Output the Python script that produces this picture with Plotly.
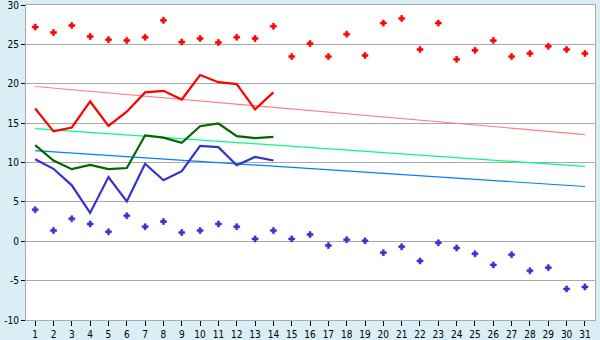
import plotly.graph_objects as go

days = list(range(1, 32))
max_pts = [27.2, 26.5, 27.4, 26.0, 25.6, 25.5, 25.9, 28.05, 25.3, 25.75,
           25.25, 25.9, 25.75, 27.3, 23.45, 25.1, 23.45, 26.3, 23.6, 27.7,
           28.3, 24.35, 27.7, 23.1, 24.25, 25.5, 23.45, 23.85, 24.75, 24.35, 23.85]
min_pts = [4.0, 1.35, 2.85, 2.2, 1.2, 3.25, 1.85, 2.5, 1.1, 1.35,
           2.2, 1.85, 0.3, 1.35, 0.3, 0.85, -0.55, 0.2, 0.05, -1.45,
           -0.7, -2.5, -0.2, -0.85, -1.6, -3.0, -1.7, -3.75, -3.35, -6.05, -5.8]
line_days = list(range(1, 15))
max_line = [16.85, 13.95, 14.45, 17.75, 14.65, 16.45, 18.9, 19.1, 18.0, 21.1,
            20.2, 19.95, 16.75, 18.9]
mean_line = [12.2, 10.25, 9.15, 9.7, 9.15, 9.3, 13.45, 13.15, 12.5, 14.6,
             14.95, 13.35, 13.1, 13.25]
min_line = [10.4, 9.2, 7.1, 3.6, 8.15, 5.05, 9.85, 7.75, 8.9, 12.1,
            11.95, 9.65, 10.7, 10.25]
trend_days = [1, 31]
trend_max = [19.65, 13.55]
trend_mean = [14.3, 9.5]
trend_min = [11.5, 6.95]
y_ticks = [-10, -5, 0, 5, 10, 15, 20, 25, 30]

fig = go.Figure()
fig.add_trace(go.Scatter(x=trend_days, y=trend_max, mode="lines",
                         line=dict(color="#FF8080", width=1.2)))
fig.add_trace(go.Scatter(x=trend_days, y=trend_mean, mode="lines",
                         line=dict(color="#00FF80", width=1.2)))
fig.add_trace(go.Scatter(x=trend_days, y=trend_min, mode="lines",
                         line=dict(color="#0080FF", width=1.2)))
fig.add_trace(go.Scatter(x=line_days, y=max_line, mode="lines",
                         line=dict(color="#FF0000", width=2.2)))
fig.add_trace(go.Scatter(x=line_days, y=mean_line, mode="lines",
                         line=dict(color="#006600", width=2.2)))
fig.add_trace(go.Scatter(x=line_days, y=min_line, mode="lines",
                         line=dict(color="#3333CC", width=2.2)))
fig.add_trace(go.Scatter(x=days, y=max_pts, mode="markers",
                         marker=dict(symbol="cross", size=5, color="#FF0000",
                                     line=dict(color="#FF0000", width=0.6))))
fig.add_trace(go.Scatter(x=days, y=min_pts, mode="markers",
                         marker=dict(symbol="cross", size=5, color="#3333CC",
                                     line=dict(color="#3333CC", width=0.6))))

fig.update_layout(
    width=600, height=340,
    margin=dict(l=26, r=5, t=5, b=20),
    paper_bgcolor="#DAEEF5",
    plot_bgcolor="#FFFFFF",
    showlegend=False,
    font=dict(family="DejaVu Sans Condensed, DejaVu Sans", size=10, color="#000000"),
)
fig.update_xaxes(range=[0.5, 31.55], tickmode="array", tickvals=days,
                 ticks="outside", ticklen=5, tickcolor="#000000",
                 showgrid=False, zeroline=False, automargin=False,
                 ticklabeloverflow="allow",
                 showline=True, linecolor="#AAAAAA", linewidth=1, mirror=True)
fig.update_yaxes(range=[-10, 30], tickmode="array", tickvals=y_ticks,
                 ticktext=[str(v) for v in y_ticks],
                 ticks="outside", ticklen=4, tickcolor="#000000",
                 showgrid=True, gridcolor="#AAAAAA", gridwidth=1,
                 zeroline=False, automargin=False,
                 ticklabeloverflow="allow",
                 showline=True, linecolor="#AAAAAA", linewidth=1, mirror=True)

fig.write_html("out.html")
